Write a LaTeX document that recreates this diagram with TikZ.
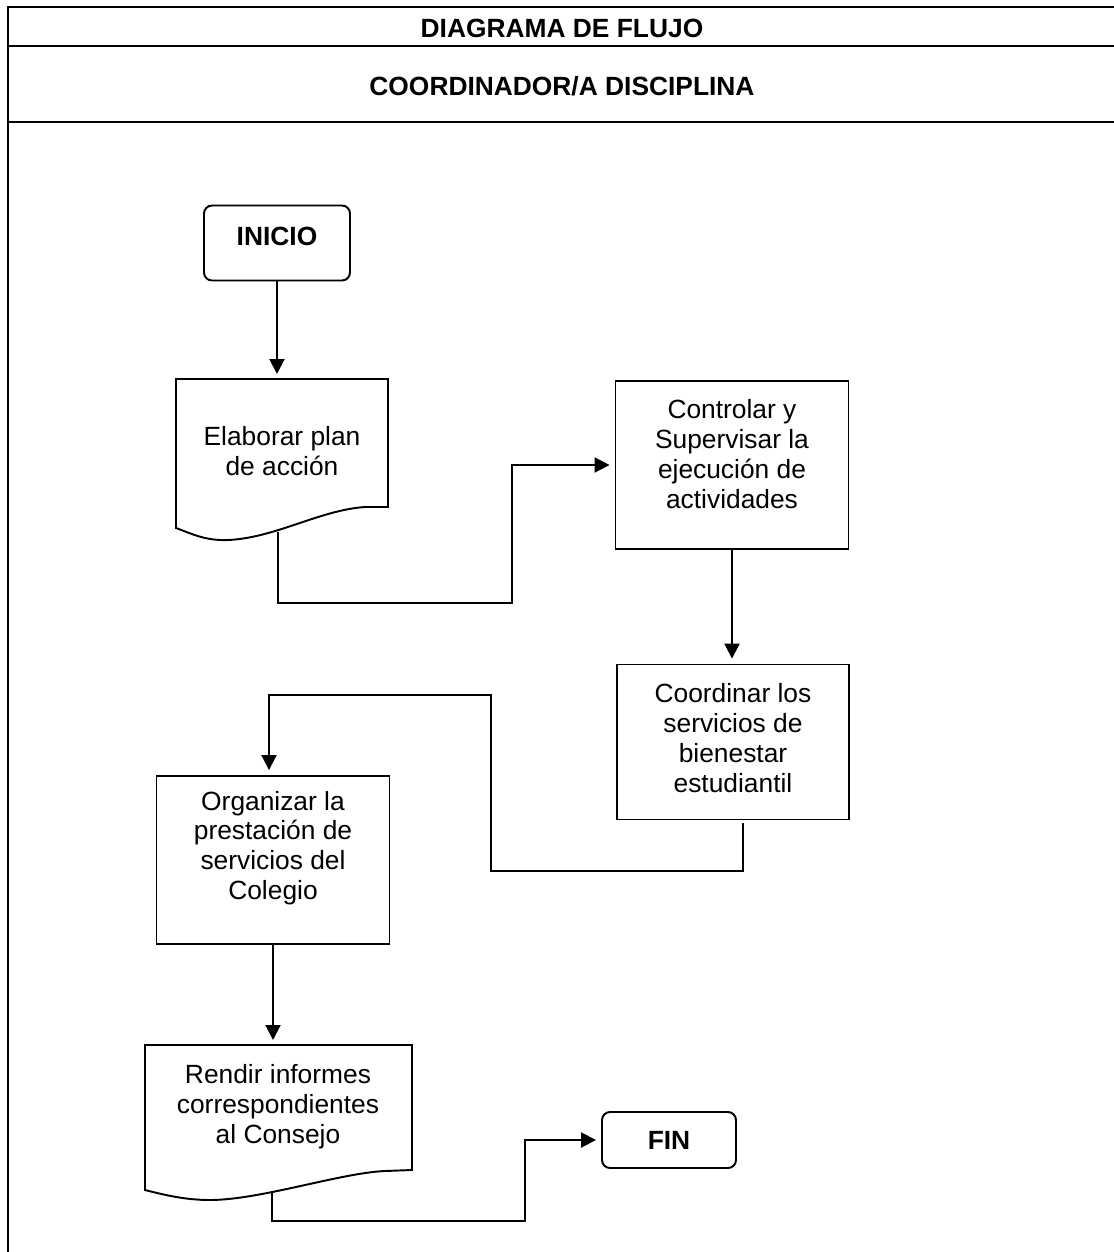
\documentclass[tikz,border=0pt]{standalone}
\usepackage{fontspec}
\setmainfont{Liberation Sans}
\usetikzlibrary{arrows.meta}

\tikzset{
  linea/.style={line width=1.1pt},
  caja/.style={draw, line width=1.1pt, minimum width=4.66cm, minimum height=3.36cm},
  term/.style={draw, line width=1.1pt, rounded corners=0.16cm, font=\fontsize{15}{17}\selectfont\bfseries},
  texto/.style={align=center, inner sep=0pt},
  titulo/.style={font=\fontsize{15}{17}\selectfont\bfseries},
  flecha/.style={line width=1.1pt, -{Triangle[length=0.3cm,width=0.3cm]}, shorten >=0.1cm},
}

\begin{document}
\begin{tikzpicture}[x=0.02cm, y=-0.02cm, font=\fontsize{15}{17}\selectfont]
\useasboundingbox (0,0) rectangle (1114,1252);
% marco y encabezado
\draw[linea] (8,1252) -- (8,7) -- (1114,7);
\draw[linea] (8,46) -- (1114,46);
\draw[linea] (8,122) -- (1114,122);
\node[titulo] (titulo) at (562,28) {DIAGRAMA DE FLUJO};
\node[titulo] (area) at (562,86) {COORDINADOR/A DISCIPLINA};

% inicio
\node[term, minimum width=2.92cm, minimum height=1.5cm, text depth=8pt] (inicio) at (277,243) {INICIO};

% documento: elaborar plan
\draw[linea] (176,528) -- (176,379) -- (388,379) -- (388,507) -- (365,507)
  .. controls (320,510) and (275,538) .. (228,540)
  .. controls (205,541) and (190,533) .. (176,528) -- cycle;
\node[texto] (plan) at (282,451) {Elaborar plan\\de acción};
\coordinate (plan-arriba) at (277,379);
\coordinate (plan-onda) at (278,532);

% cajas de proceso
\node[caja] (controlar) at (732,465) {};
\node[texto] (controlar-t) at (732,454) {Controlar y\\Supervisar la\\ejecución de\\actividades};

\node[caja, minimum width=4.64cm, minimum height=3.1cm] (coordinar) at (733,742) {};
\node[texto] (coordinar-t) at (733,738) {Coordinar los\\servicios de\\bienestar\\estudiantil};

\node[caja] (organizar) at (273,860) {};
\node[texto] (organizar-t) at (273,848) {Organizar la\\prestación de\\servicios del\\Colegio};

% documento: rendir informes
\draw[linea] (145,1190) -- (145,1045) -- (412,1045) -- (412,1170) -- (385,1171)
  .. controls (340,1173) and (260,1200) .. (210,1200)
  .. controls (185,1200) and (165,1195) .. (145,1190) -- cycle;
\node[texto] (rendir) at (278,1107) {Rendir informes\\correspondientes\\al Consejo};
\coordinate (rendir-arriba) at (273,1045);
\coordinate (rendir-onda) at (272,1193);

% fin
\node[term, minimum width=2.68cm, minimum height=1.12cm] (fin) at (669,1140) {FIN};

% conectores
\coordinate (codo1) at (512,603);
\coordinate (c-sal) at (743,823);
\coordinate (codo2) at (491,871);
\coordinate (codo3) at (269,695);
\coordinate (codo4) at (525,1221);
\draw[flecha] (inicio) -- (plan-arriba);
\draw[flecha] (plan-onda) |- (codo1) |- (controlar.west);
\draw[flecha] (controlar.south) -- (controlar.south |- coordinar.north);
\draw[flecha] (c-sal) |- (codo2) |- (codo3) -- (codo3 |- organizar.north);
\draw[flecha] (organizar) -- (rendir-arriba);
\draw[flecha] (rendir-onda) |- (codo4) |- (fin.west);
\end{tikzpicture}
\end{document}
